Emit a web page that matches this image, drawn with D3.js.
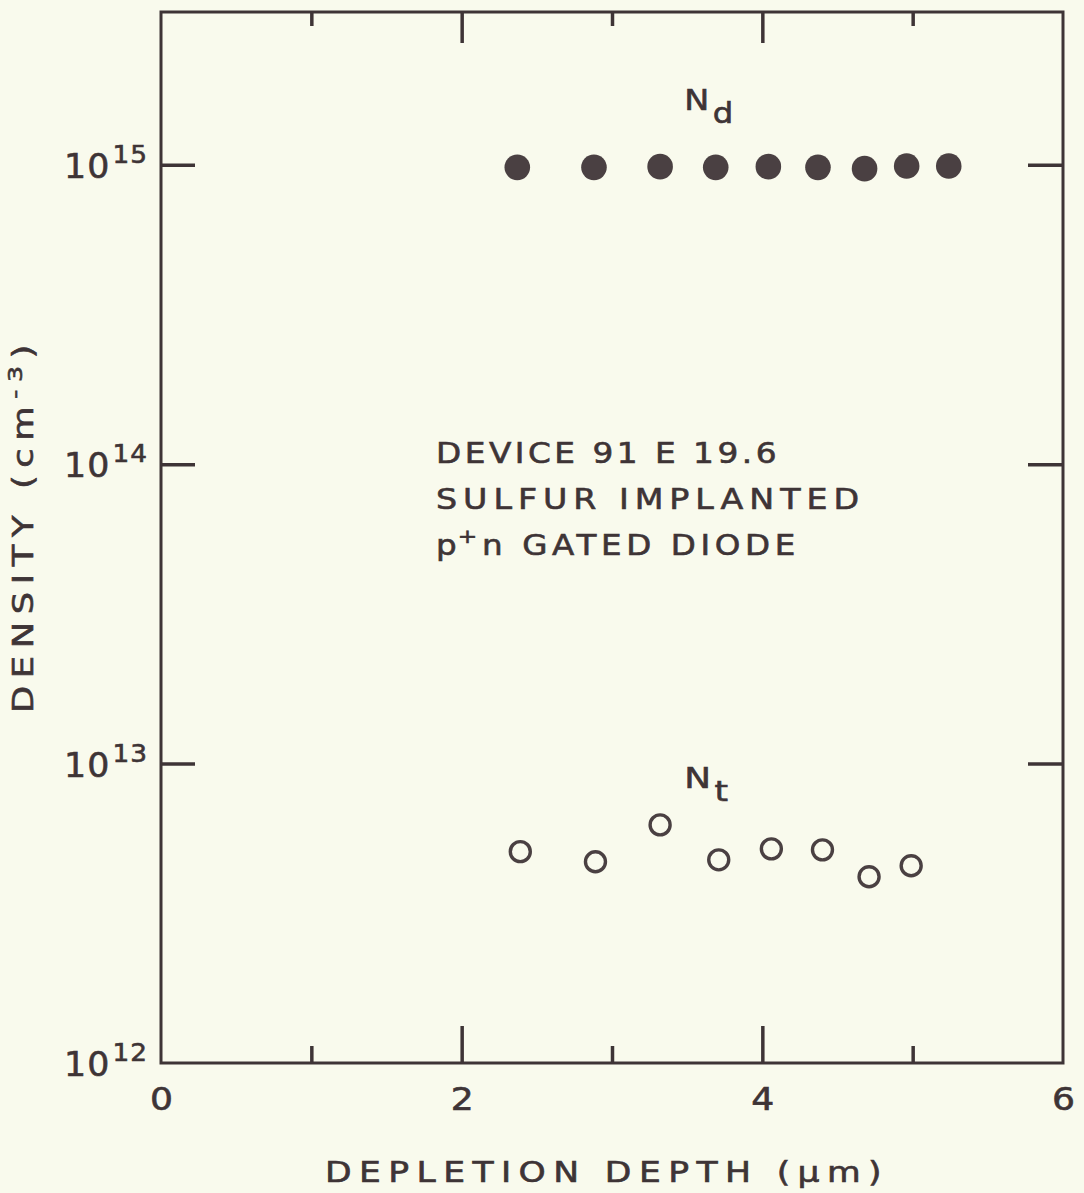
<!DOCTYPE html>
<html>
<head>
<meta charset="utf-8">
<script src="https://cdn.jsdelivr.net/npm/d3@7"></script>
<style>
body { margin: 0; background: #f9faed; }
svg { display: block; font-family: "DejaVu Sans", sans-serif; }
svg text { stroke: #3e3436; stroke-width: 0.6px; }
</style>
</head>
<body>
<svg id="chart"></svg>
<script>
// donor density N_d (filled dots)
let ndDepth = [2.37, 2.88, 3.32, 3.69, 4.04, 4.37, 4.68, 4.96, 5.24]
let ndDensity = [9.8e14, 9.8e14, 9.85e14, 9.8e14, 9.85e14, 9.8e14, 9.7e14, 9.9e14, 9.9e14]

// trap density N_t (open circles)
let ntDepth = [2.39, 2.89, 3.32, 3.71, 4.06, 4.40, 4.71, 4.99]
let ntDensity = [5.08e12, 4.70e12, 6.24e12, 4.77e12, 5.19e12, 5.15e12, 4.19e12, 4.56e12]

let xMajorTicks = [2, 4]
let xMinorTicks = [1, 3, 5]
let xTickLabels = [0, 2, 4, 6]
let yTicks = [1e13, 1e14, 1e15]
let yTickLabels = [1e12, 1e13, 1e14, 1e15]

let width = 1084
let height = 1193
let plotLeft = 161, plotRight = 1063, plotTop = 12, plotBottom = 1063
let ink = '#3e3436'

let svg = d3.select('#chart')
    .attr('width', width)
    .attr('height', height)

svg.append('rect')
    .attr('width', width)
    .attr('height', height)
    .attr('fill', '#f9faed')

let xScale = d3.scaleLinear()
    .domain([0, 6])
    .range([plotLeft, plotRight])

let yScale = d3.scaleLog()
    .domain([1e12, Math.pow(10, 15.51)])
    .range([plotBottom, plotTop])

//the original lettering is a wide face, so stretch glyphs a bit to its width
let stretch = (sel, len, spacing) => {
    sel.attr('textLength', len)
        .attr('lengthAdjust', 'spacingAndGlyphs')
        .style('letter-spacing', spacing + 'px')
}

//tick marks, all pointing into the frame
let tickAxis = (axis, tx, ty) => {
    let g = svg.append('g')
        .attr('transform', 'translate(' + tx + ',' + ty + ')')
        .call(axis.tickFormat(''))
    g.select('.domain').remove()
    g.selectAll('line')
        .attr('stroke', ink)
        .attr('stroke-width', 3.5)
}

tickAxis(d3.axisTop(xScale).tickValues(xMajorTicks).tickSize(37), 0, plotBottom)
tickAxis(d3.axisTop(xScale).tickValues(xMinorTicks).tickSize(17), 0, plotBottom)
tickAxis(d3.axisBottom(xScale).tickValues(xMajorTicks).tickSize(31), 0, plotTop)
tickAxis(d3.axisBottom(xScale).tickValues(xMinorTicks).tickSize(14), 0, plotTop)
tickAxis(d3.axisRight(yScale).tickValues(yTicks).tickSize(34), plotLeft, 0)
tickAxis(d3.axisLeft(yScale).tickValues(yTicks).tickSize(35), plotRight, 0)

//frame
svg.append('rect')
    .attr('x', plotLeft)
    .attr('y', plotTop)
    .attr('width', plotRight - plotLeft)
    .attr('height', plotBottom - plotTop)
    .attr('fill', 'none')
    .attr('stroke', ink)
    .attr('stroke-width', 3)

//x tick labels
let xLabels = svg.append('g')
    .attr('transform', 'translate(0,' + plotBottom + ')')
    .call(d3.axisBottom(xScale).tickValues(xTickLabels).tickSize(0).tickPadding(24).tickFormat(d3.format('d')))
xLabels.select('.domain').remove()
xLabels.attr('font-family', null).attr('font-size', null)
xLabels.selectAll('text')
    .attr('fill', ink)
    .style('font-size', '32px')
    .call(stretch, 23, 0)

//y tick labels as powers of ten
let yLabel = svg.selectAll('.ylabel')
    .data(yTickLabels)
    .enter()
    .append('text')
    .attr('class', 'ylabel')
    .attr('x', 148)
    .attr('y', (d) => yScale(d) + 13)
    .attr('text-anchor', 'end')
    .attr('fill', ink)
    .style('font-size', '33px')
    .call(stretch, 84, 1)
yLabel.append('tspan').text('10')
yLabel.append('tspan')
    .attr('dx', 2)
    .attr('dy', -15)
    .style('font-size', '25px')
    .text((d) => Math.round(Math.log10(d)))

//N_d points
svg.selectAll('.nd')
    .data(ndDepth)
    .enter()
    .append('circle')
    .attr('class', 'nd')
    .attr('cx', (d) => xScale(d))
    .attr('cy', (d, i) => yScale(ndDensity[i]))
    .attr('r', 12.8)
    .attr('fill', '#4a4042')

//N_t points
svg.selectAll('.nt')
    .data(ntDepth)
    .enter()
    .append('circle')
    .attr('class', 'nt')
    .attr('cx', (d) => xScale(d))
    .attr('cy', (d, i) => yScale(ntDensity[i]))
    .attr('r', 10)
    .attr('fill', 'none')
    .attr('stroke', '#4a4042')
    .attr('stroke-width', 3.4)

//series labels
let seriesLabel = (main, sub, x, y, len) => {
    let t = svg.append('text')
        .attr('x', x)
        .attr('y', y)
        .attr('fill', ink)
        .style('font-size', '29px')
        .call(stretch, len, 0)
    t.append('tspan').text(main)
    t.append('tspan').attr('dx', 3).attr('dy', 13).style('font-size', '28px').text(sub)
}
seriesLabel('N', 'd', xScale(3.48), yScale(1e15) - 55, 49)
seriesLabel('N', 't', xScale(3.48), yScale(1e13) + 24, 44)

//device annotation
let note = svg.append('g').attr('fill', ink).style('font-size', '28px')
note.append('text').attr('x', 436).attr('y', 463)
    .text('DEVICE 91 E 19.6')
    .call(stretch, 344, 3)
note.append('text').attr('x', 436).attr('y', 509)
    .text('SULFUR IMPLANTED')
    .call(stretch, 429, 5)
let line3 = note.append('text').attr('x', 436).attr('y', 555)
    .call(stretch, 364, 4)
line3.append('tspan').text('p')
line3.append('tspan').attr('dx', -3).attr('dy', -12).style('font-size', '20px').text('+')
line3.append('tspan').attr('dy', 12).text('n GATED DIODE')

//axis titles
svg.append('text')
    .attr('x', 325)
    .attr('y', 1182)
    .attr('fill', ink)
    .style('font-size', '28px')
    .text('DEPLETION DEPTH (\u03bcm)')
    .call(stretch, 564, 6)

let yTitle = svg.append('text')
    .attr('transform', 'translate(33,713) rotate(-90)')
    .attr('fill', ink)
    .style('font-size', '28px')
    .call(stretch, 376, 6)
yTitle.append('tspan').text('DENSITY (cm')
yTitle.append('tspan').attr('dy', -11).style('font-size', '20px').text('-3')
yTitle.append('tspan').attr('dy', 11).text(')')
</script>
</body>
</html>
